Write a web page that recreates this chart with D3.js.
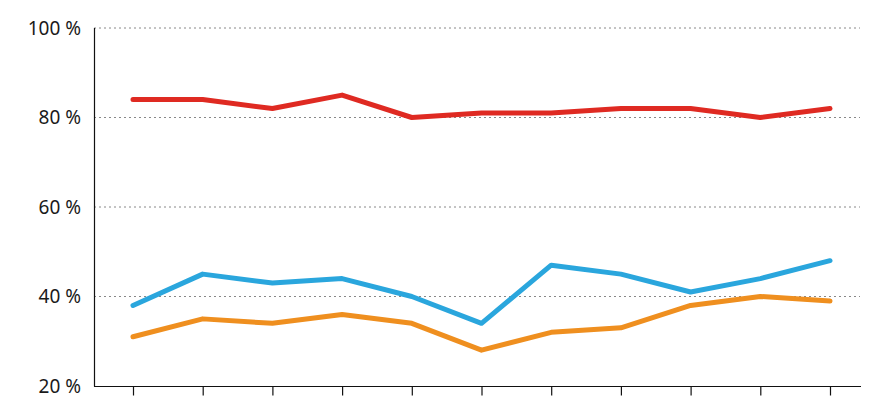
<!DOCTYPE html>
<html><head><meta charset="utf-8">
<script src="https://cdn.jsdelivr.net/npm/d3@7"></script>
<style>body{margin:0;background:#fff}svg{display:block}</style>
</head><body>
<svg id="c" width="883" height="400"></svg>
<script>
const categories = ["1","2","3","4","5","6","7","8","9","10","11"];
const redValues = [84,84,82,85,80,81,81,82,82,80,82];
const blueValues = [38,45,43,44,40,34,47,45,41,44,48];
const orangeValues = [31,35,34,36,34,28,32,33,38,40,39];
const yTicks = [20,40,60,80,100];

const svg = d3.select("#c");
const x = d3.scalePoint().domain(categories).range([133,830]);
const y = d3.scaleLinear().domain([20,100]).range([386,28]);
const left = 94, right = 861;

// grid
svg.append("g").selectAll("line").data(yTicks.filter(d=>d>20)).join("line")
  .attr("x1",left).attr("x2",860).attr("y1",d=>y(d)).attr("y2",d=>y(d))
  .attr("stroke","#888").attr("stroke-width",1).attr("stroke-dasharray","2,3");

// y labels
svg.append("g").selectAll("text").data(yTicks).join("text")
  .attr("x",81).attr("y",d=>y(d)).attr("dy","0.36em").attr("text-anchor","end")
  .attr("font-family","'Noto Sans', sans-serif").attr("font-size",19).attr("fill","#1a1a1a")
  .text(d=>d+" %");

// y axis line
svg.append("line").attr("x1",left+0.5).attr("x2",left+0.5).attr("y1",28).attr("y2",386.5)
  .attr("stroke","#111").attr("stroke-width",1.2);
// x axis
const xa = svg.append("g").attr("transform","translate(0,386.5)")
  .call(d3.axisBottom(x).tickSize(9).tickFormat(""));
xa.select(".domain").remove();
xa.selectAll(".tick line").attr("stroke","#111").attr("stroke-width",1.2);
svg.append("line").attr("x1",left).attr("x2",right).attr("y1",386.5).attr("y2",386.5)
  .attr("stroke","#111").attr("stroke-width",1.2);

const line = d3.line().x((d,i)=>x(categories[i])).y(d=>y(d));
[[orangeValues,"#ef8f1f"],[blueValues,"#2aa6dd"],[redValues,"#df2a22"]].forEach(([vals,col])=>{
  svg.append("path").datum(vals).attr("d",line).attr("fill","none")
    .attr("stroke",col).attr("stroke-width",5).attr("stroke-linejoin","round").attr("stroke-linecap","round");
});
</script>
</body></html>
